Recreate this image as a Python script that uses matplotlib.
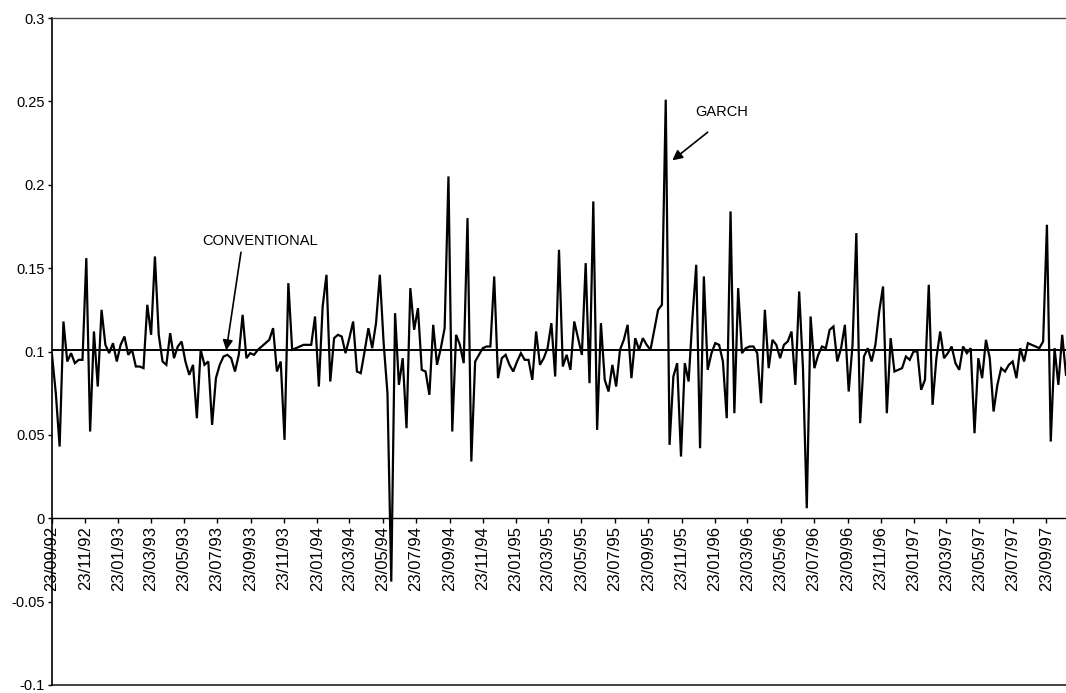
import matplotlib
matplotlib.use("Agg")
import matplotlib.pyplot as plt
import matplotlib.ticker as mticker
import numpy as np
import pandas as pd

plt.rcParams['font.family'] = ['Liberation Sans', 'DejaVu Sans']

# weekly volatility estimates, starting 23/09/92
start = '1992-09-23'
garch = [
    0.098, 0.075, 0.043, 0.118, 0.094, 0.099, 0.093, 0.095, 0.095, 0.156, 0.052, 0.112, 0.079,
    0.125, 0.104, 0.099, 0.105, 0.094, 0.104, 0.109, 0.098, 0.101, 0.091, 0.091, 0.090,
    0.128, 0.110, 0.157, 0.110, 0.094, 0.092, 0.111, 0.096, 0.103, 0.106, 0.094, 0.086,
    0.092, 0.060, 0.101, 0.092, 0.094, 0.056, 0.084, 0.092, 0.097, 0.098, 0.096, 0.088,
    0.098, 0.122, 0.096, 0.099, 0.098, 0.101, 0.103, 0.105, 0.107, 0.114, 0.088, 0.094,
    0.047, 0.141, 0.101, 0.102, 0.103, 0.104, 0.104, 0.104, 0.121, 0.079, 0.127, 0.146,
    0.082, 0.108, 0.110, 0.109, 0.099, 0.108, 0.118, 0.088, 0.087, 0.100, 0.114, 0.102,
    0.117, 0.146, 0.105, 0.075, -0.038, 0.123, 0.080, 0.096, 0.054, 0.138, 0.113, 0.126,
    0.089, 0.088, 0.074, 0.116, 0.092, 0.102, 0.114, 0.205, 0.052, 0.110, 0.104, 0.093,
    0.180, 0.034, 0.094, 0.098, 0.102, 0.103, 0.103, 0.145, 0.084, 0.096, 0.098, 0.092,
    0.088, 0.094, 0.099, 0.095, 0.095, 0.083, 0.112, 0.092, 0.096, 0.102, 0.117, 0.085,
    0.161, 0.091, 0.098, 0.089, 0.118, 0.108, 0.098, 0.153, 0.081, 0.190, 0.053, 0.117,
    0.083, 0.076, 0.092, 0.079, 0.101, 0.107, 0.116, 0.084, 0.108, 0.101, 0.108, 0.104,
    0.101, 0.113, 0.125, 0.128, 0.251, 0.044, 0.085, 0.093, 0.037, 0.093, 0.082, 0.120, 0.152,
    0.042, 0.145, 0.089, 0.099, 0.105, 0.104, 0.094, 0.060, 0.184, 0.063, 0.138, 0.099,
    0.102, 0.103, 0.103, 0.099, 0.069, 0.125, 0.090, 0.107, 0.104, 0.096, 0.104, 0.106,
    0.112, 0.080, 0.136, 0.090, 0.006, 0.121, 0.090, 0.098, 0.103, 0.102, 0.113, 0.115,
    0.094, 0.102, 0.116, 0.076, 0.104, 0.171, 0.057, 0.097, 0.102, 0.094, 0.104, 0.124,
    0.139, 0.063, 0.108, 0.088, 0.089, 0.090, 0.097, 0.095, 0.100, 0.100, 0.077, 0.083,
    0.140, 0.068, 0.096, 0.112, 0.096, 0.099, 0.103, 0.093, 0.089, 0.103, 0.099, 0.102,
    0.051, 0.096, 0.084, 0.107, 0.096, 0.064, 0.080, 0.090, 0.088, 0.092, 0.094, 0.084,
    0.102, 0.094, 0.105, 0.104, 0.103, 0.102, 0.106, 0.176, 0.046, 0.102, 0.080, 0.110, 0.086,
]
conventional = 0.101

dates = pd.date_range(start, periods=len(garch), freq='7D')
tick_dates = pd.date_range('1992-09-01', '1997-09-30', freq='2MS') + pd.Timedelta(days=22)
tick_labels = [d.strftime('%d/%m/%y') for d in tick_dates]

fig = plt.figure(figsize=(10.66, 6.93), dpi=100)
ax = fig.add_axes([52 / 1066, 8 / 693, 1014 / 1066, 667 / 693])

ax.plot(dates, garch, color='black', lw=1.6, solid_joinstyle='miter')
ax.axhline(conventional, color='black', lw=1.4)

ax.set_xlim(pd.Timestamp(start), dates[-1])
ax.set_ylim(-0.1, 0.3)

# category axis sits on zero, frame lines at the limits
ax.spines['bottom'].set_position(('data', 0))
ax.spines['bottom'].set_linewidth(1.0)
ax.spines['left'].set_linewidth(1.2)
ax.spines['right'].set_visible(False)
ax.spines['top'].set_color('#444444')
ax.spines['top'].set_linewidth(1.0)
ax.axhline(-0.1, color='#222222', lw=1.2, clip_on=False)

ax.set_xticks(tick_dates)
ax.set_xticklabels(tick_labels, rotation=90, fontsize=12)
ax.tick_params(axis='x', direction='out', length=3.5, width=1, pad=2)

ax.yaxis.set_major_locator(mticker.MultipleLocator(0.05))
ax.yaxis.set_major_formatter(mticker.FuncFormatter(lambda v, p: f'{round(v, 3):g}'))
ax.tick_params(axis='y', direction='out', length=3, width=1, pad=2, labelsize=10.5)

arrow = dict(arrowstyle='-|>', color='black', lw=1.2, mutation_scale=15,
             shrinkA=0, shrinkB=0)

ax.text(pd.Timestamp('1996-02-05'), 0.2434, 'GARCH', ha='center', va='center', fontsize=10.5)
ax.annotate('', xy=(pd.Timestamp('1995-11-06'), 0.2146),
            xytext=(pd.Timestamp('1996-01-10'), 0.2315), arrowprops=arrow)

ax.text(pd.Timestamp('1993-10-10'), 0.166, 'CONVENTIONAL', ha='center', va='center',
        fontsize=10.5)
ax.annotate('', xy=(pd.Timestamp('1993-08-09'), 0.1007),
            xytext=(pd.Timestamp('1993-09-05'), 0.1595), arrowprops=arrow)

fig.savefig('out.png', dpi=100)
